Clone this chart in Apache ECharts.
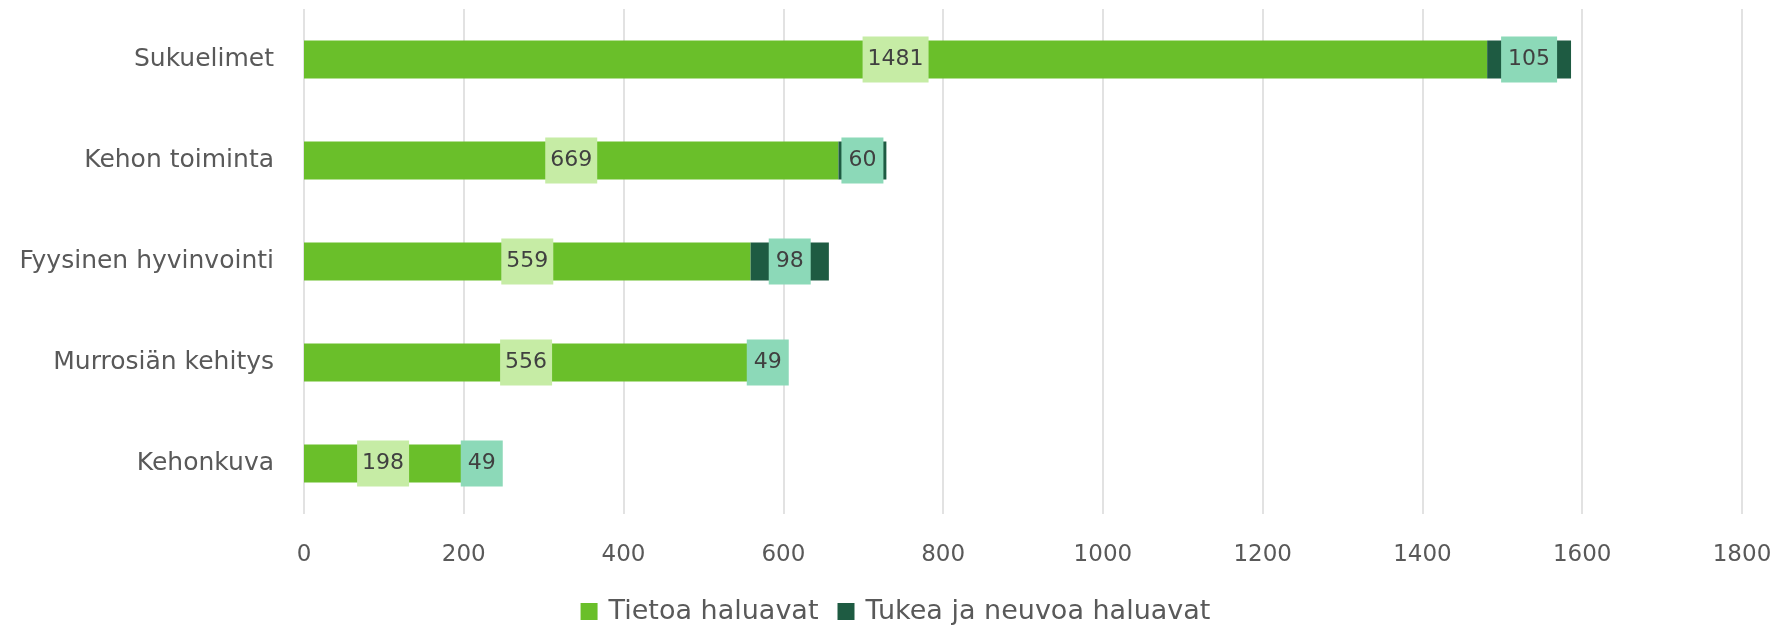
<!DOCTYPE html>
<html>
<head>
<meta charset="utf-8">
<script src="https://cdn.jsdelivr.net/npm/echarts@6/dist/echarts.min.js"></script>
<style>
html,body{margin:0;padding:0;background:#fff;}
#chart{width:1791px;height:631px;}
</style>
</head>
<body>
<div id="chart"></div>
<script>
const categories = ['Sukuelimet', 'Kehon toiminta', 'Fyysinen hyvinvointi', 'Murrosiän kehitys', 'Kehonkuva'];
const tietoa = [1481, 669, 559, 556, 198];
const tukea = [105, 60, 98, 49, 49];
const seriesNames = ['Tietoa haluavat', 'Tukea ja neuvoa haluavat'];
const xTicks = [0, 200, 400, 600, 800, 1000, 1200, 1400, 1600, 1800];

const FONT = '"DejaVu Sans", sans-serif';
const chart = echarts.init(document.getElementById('chart'));
chart.setOption({
  backgroundColor: '#ffffff',
  animation: false,
  textStyle: { fontFamily: FONT },
  grid: { left: 304, right: 49, top: 9, bottom: 117, containLabel: false },
  legend: {
    bottom: 1,
    left: 'center',
    itemWidth: 17,
    itemHeight: 17,
    itemGap: 19,
    icon: 'rect',
    textStyle: { fontFamily: FONT, fontSize: 27, color: '#595959', padding: [0, 0, 0, 6] },
    data: seriesNames
  },
  xAxis: {
    type: 'value',
    min: xTicks[0],
    max: xTicks[xTicks.length - 1],
    interval: xTicks[1] - xTicks[0],
    axisLine: { show: false },
    axisTick: { show: false },
    axisLabel: { fontFamily: FONT, fontSize: 23, color: '#595959', margin: 30, formatter: v => String(v) },
    splitLine: { lineStyle: { color: '#d9d9d9', width: 1.5 } }
  },
  yAxis: {
    type: 'category',
    inverse: true,
    data: categories,
    axisLine: { show: false },
    axisTick: { show: false },
    axisLabel: { fontFamily: FONT, fontSize: 25, color: '#595959', margin: 30 }
  },
  series: [
    {
      name: seriesNames[0],
      type: 'bar',
      stack: 'total',
      barWidth: 38,
      data: tietoa,
      itemStyle: { color: '#6abf2a' },
      label: {
        show: true,
        position: 'inside',
        fontFamily: FONT,
        fontSize: 22,
        color: '#404040',
        backgroundColor: '#c6eca5',
        padding: [9, 5, 9, 5],
        lineHeight: 28,
        formatter: p => String(p.value)
      }
    },
    {
      name: seriesNames[1],
      type: 'bar',
      stack: 'total',
      barWidth: 38,
      data: tukea,
      itemStyle: { color: '#1e5b42' },
      label: {
        show: true,
        position: 'inside',
        fontFamily: FONT,
        fontSize: 22,
        color: '#404040',
        backgroundColor: '#8cd9b8',
        padding: [9, 7, 9, 7],
        lineHeight: 28,
        formatter: p => String(p.value)
      }
    }
  ]
});
</script>
</body>
</html>
